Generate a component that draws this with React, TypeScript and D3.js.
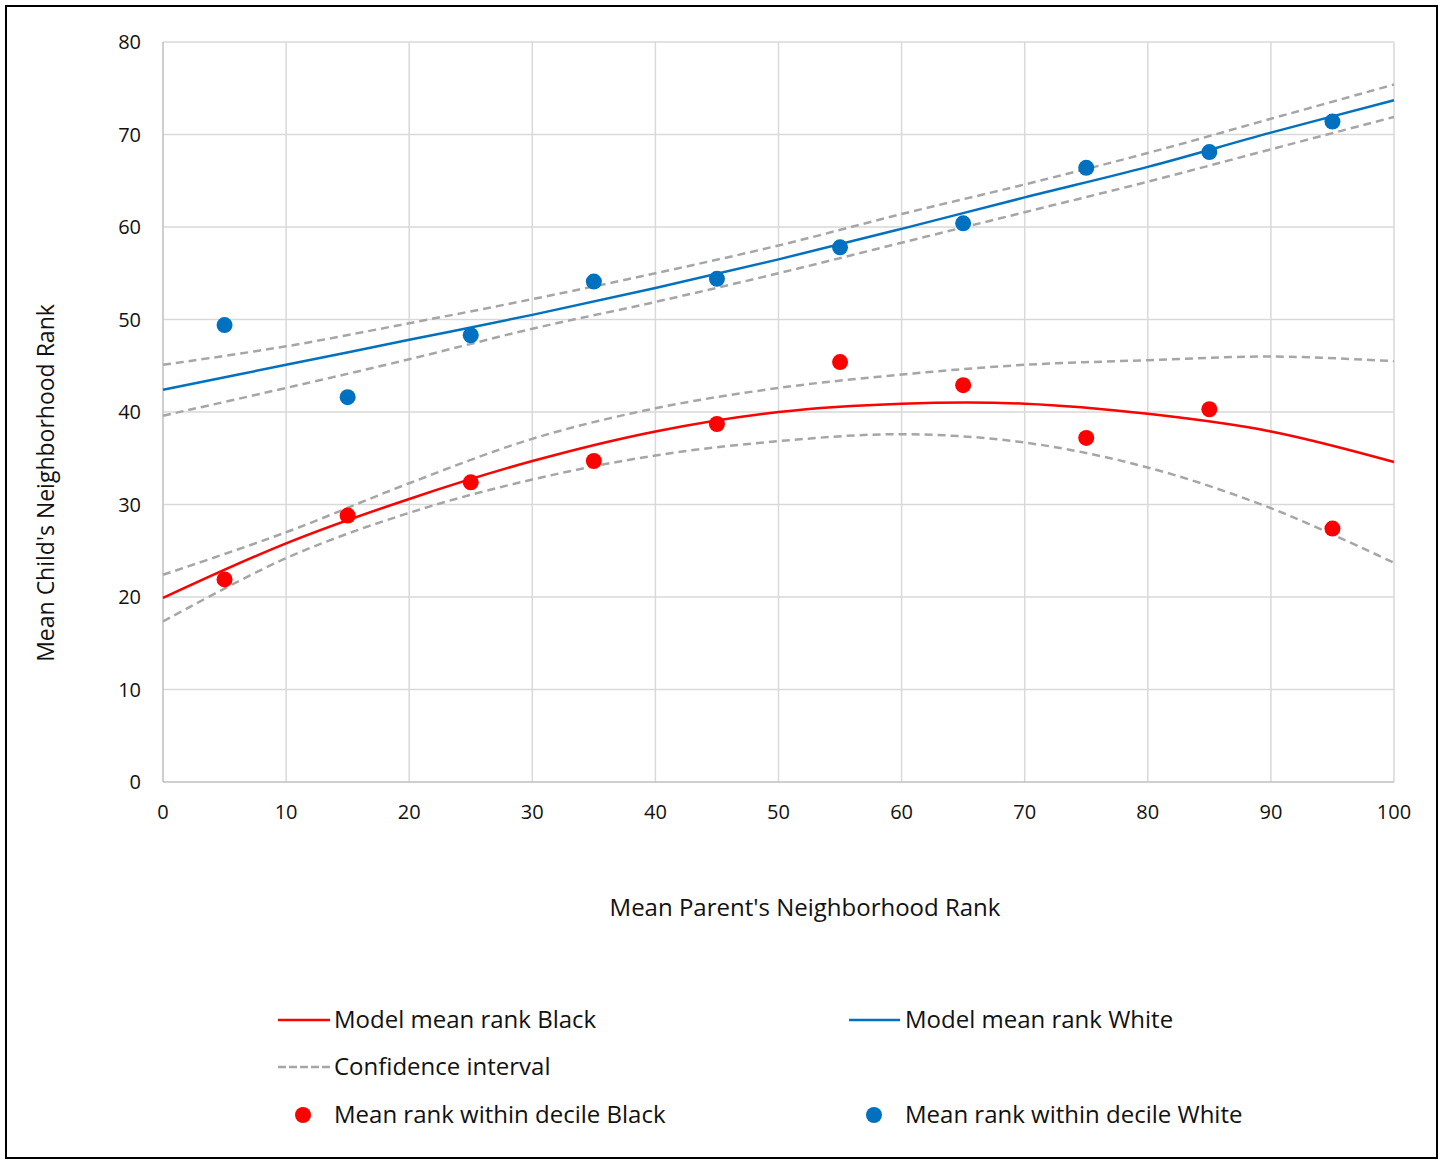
import React, { useEffect, useRef } from 'react';
import * as d3 from 'd3';

// 十分位点 (x) 与散点数据
const deciles = [5, 15, 25, 35, 45, 55, 65, 75, 85, 95];
const blackPoints = [21.9, 28.8, 32.4, 34.7, 38.7, 45.4, 42.9, 37.2, 40.3, 27.4];
const whitePoints = [49.4, 41.6, 48.3, 54.1, 54.4, 57.8, 60.4, 66.4, 68.1, 71.4];

// 模型曲线读数 (x = 0..100, 步长 10)
const curveX = [0, 10, 20, 30, 40, 50, 60, 70, 80, 90, 100];
const blackModel = [19.9, 25.8, 30.6, 34.7, 37.9, 40.0, 40.9, 40.9, 39.8, 37.9, 34.6];
const blackUpper = [22.4, 27.0, 32.3, 37.1, 40.4, 42.6, 44.05, 45.1, 45.6, 46.0, 45.5];
const blackLower = [17.35, 24.2, 29.1, 32.7, 35.3, 36.85, 37.6, 36.7, 34.0, 29.6, 23.7];
const whiteModel = [42.4, 45.1, 47.8, 50.5, 53.4, 56.5, 59.8, 63.2, 66.5, 70.2, 73.7];
const whiteUpper = [45.1, 47.1, 49.6, 52.2, 55.0, 58.0, 61.4, 64.6, 68.0, 71.7, 75.4];
const whiteLower = [39.6, 42.6, 45.7, 49.0, 51.9, 55.0, 58.3, 61.6, 64.9, 68.4, 71.9];

const xTicks = [0, 10, 20, 30, 40, 50, 60, 70, 80, 90, 100];
const yTicks = [0, 10, 20, 30, 40, 50, 60, 70, 80];

const RED = '#ff0000';
const BLUE = '#0070c0';
const GRAY = '#a6a6a6';
const FONT = 'Open Sans, sans-serif';

const App = () => {
    const svgRef = useRef<SVGSVGElement>(null);

    useEffect(() => {
        const svg = d3.select(svgRef.current);
        svg.selectAll('*').remove();

        const x = d3.scaleLinear().domain([0, 100]).range([163, 1394]);
        const y = d3.scaleLinear().domain([0, 80]).range([782, 42]);

        // 外框
        svg.append('rect')
            .attr('x', 6).attr('y', 6).attr('width', 1431).attr('height', 1152)
            .attr('fill', 'white').attr('stroke', '#000').attr('stroke-width', 2);

        // 网格
        const grid = svg.append('g');
        grid.selectAll('line.v').data(xTicks.slice(1)).enter().append('line')
            .attr('x1', d => x(d)).attr('x2', d => x(d))
            .attr('y1', y(80)).attr('y2', y(0))
            .attr('stroke', '#d9d9d9').attr('stroke-width', 1.5);
        grid.selectAll('line.h').data(yTicks.slice(1)).enter().append('line')
            .attr('x1', x(0)).attr('x2', x(100))
            .attr('y1', d => y(d)).attr('y2', d => y(d))
            .attr('stroke', '#d9d9d9').attr('stroke-width', 1.5);

        // 坐标轴线
        svg.append('line').attr('x1', x(0)).attr('x2', x(0)).attr('y1', y(80)).attr('y2', y(0))
            .attr('stroke', '#bfbfbf').attr('stroke-width', 1.5);
        svg.append('line').attr('x1', x(0)).attr('x2', x(100)).attr('y1', y(0)).attr('y2', y(0))
            .attr('stroke', '#bfbfbf').attr('stroke-width', 1.5);

        // 刻度标签
        svg.append('g').selectAll('text').data(yTicks).enter().append('text')
            .attr('x', 141).attr('y', d => y(d)).attr('dy', '0.35em')
            .attr('text-anchor', 'end').attr('font-family', FONT).attr('font-size', 20)
            .attr('fill', '#111').text(d => d);
        svg.append('g').selectAll('text').data(xTicks).enter().append('text')
            .attr('x', d => x(d)).attr('y', 812).attr('dy', '0.35em')
            .attr('text-anchor', 'middle').attr('font-family', FONT).attr('font-size', 20)
            .attr('fill', '#111').text(d => d);

        // 轴标题
        svg.append('text').attr('x', 805).attr('y', 908).attr('dy', '0.35em')
            .attr('text-anchor', 'middle').attr('font-family', FONT).attr('font-size', 24)
            .attr('fill', '#111').text("Mean Parent's Neighborhood Rank");
        svg.append('text').attr('transform', 'translate(46,483) rotate(-90)').attr('dy', '0.35em')
            .attr('text-anchor', 'middle').attr('font-family', FONT).attr('font-size', 23)
            .attr('fill', '#111').text("Mean Child's Neighborhood Rank");

        // 曲线
        const line = d3.line<number>()
            .x((_, i) => x(curveX[i]))
            .y(d => y(d))
            .curve(d3.curveCatmullRom.alpha(0.5));

        const dashed = [blackUpper, blackLower, whiteUpper, whiteLower];
        dashed.forEach(s => {
            svg.append('path').attr('d', line(s)).attr('fill', 'none')
                .attr('stroke', GRAY).attr('stroke-width', 2.5).attr('stroke-dasharray', '8,5');
        });
        svg.append('path').attr('d', line(blackModel)).attr('fill', 'none')
            .attr('stroke', RED).attr('stroke-width', 2.5);
        svg.append('path').attr('d', line(whiteModel)).attr('fill', 'none')
            .attr('stroke', BLUE).attr('stroke-width', 2.5);

        // 散点
        svg.append('g').selectAll('circle').data(blackPoints).enter().append('circle')
            .attr('cx', (_, i) => x(deciles[i])).attr('cy', d => y(d)).attr('r', 8).attr('fill', RED);
        svg.append('g').selectAll('circle').data(whitePoints).enter().append('circle')
            .attr('cx', (_, i) => x(deciles[i])).attr('cy', d => y(d)).attr('r', 8).attr('fill', BLUE);

        // 图例
        const legend = svg.append('g').attr('font-family', FONT).attr('font-size', 24).attr('fill', '#111');
        const addText = (tx: number, ty: number, s: string) =>
            legend.append('text').attr('x', tx).attr('y', ty).attr('dy', '0.35em').text(s);

        legend.append('line').attr('x1', 278).attr('x2', 330).attr('y1', 1020).attr('y2', 1020)
            .attr('stroke', RED).attr('stroke-width', 2.5);
        addText(334, 1020, 'Model mean rank Black');
        legend.append('line').attr('x1', 849).attr('x2', 900).attr('y1', 1020).attr('y2', 1020)
            .attr('stroke', BLUE).attr('stroke-width', 2.5);
        addText(905, 1020, 'Model mean rank White');
        legend.append('line').attr('x1', 278).attr('x2', 330).attr('y1', 1067).attr('y2', 1067)
            .attr('stroke', GRAY).attr('stroke-width', 2.5).attr('stroke-dasharray', '8,3');
        addText(334, 1067, 'Confidence interval');
        legend.append('circle').attr('cx', 303).attr('cy', 1115).attr('r', 8).attr('fill', RED);
        addText(334, 1115, 'Mean rank within decile Black');
        legend.append('circle').attr('cx', 874).attr('cy', 1115).attr('r', 8).attr('fill', BLUE);
        addText(905, 1115, 'Mean rank within decile White');
    }, []);

    return (
        <svg ref={svgRef} width={1443} height={1164}
            style={{ position: 'absolute', left: 0, top: 0 }} />
    );
};

export default App;
